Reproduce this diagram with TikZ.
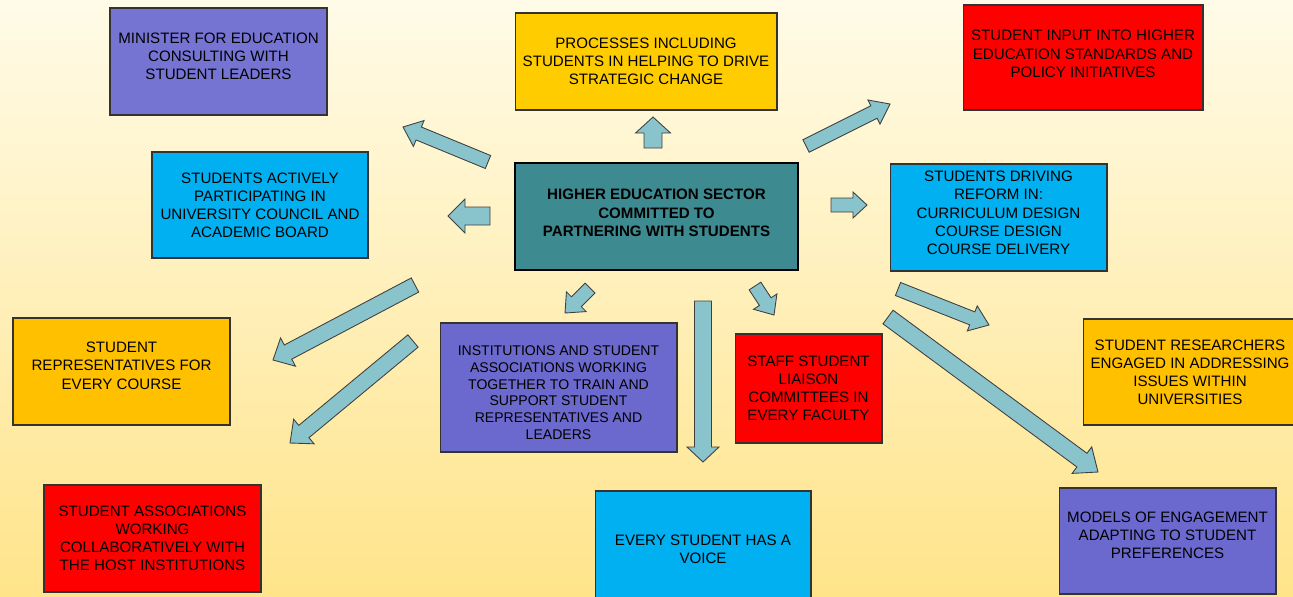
\documentclass[tikz,border=0pt]{standalone}
\usepackage{fontspec}
\setmainfont{Liberation Sans}
\usepackage{xcolor}
\usetikzlibrary{calc}

\definecolor{bgtop}{HTML}{FFFBE8}
\definecolor{bgbot}{HTML}{FFE48A}
\definecolor{minpurple}{HTML}{7574D2}
\definecolor{boxpurple}{HTML}{6B69CD}
\definecolor{boxyellow}{HTML}{FFCC00}
\definecolor{boxorange}{HTML}{FFC000}
\definecolor{boxred}{HTML}{FF0000}
\definecolor{boxcyan}{HTML}{00B0F0}
\definecolor{hubteal}{HTML}{3D8A90}
\definecolor{arrowfill}{HTML}{89C4CC}

\tikzset{
  box/.style={draw=black!80, line width=0.6pt, align=center, inner sep=2pt,
    font=\fontsize{8.6}{10.3}\selectfont},
  dims/.style 2 args={minimum width=#1, minimum height=#2},
  lift/.style={text depth=#1},
  sink/.style={text height=#1},
  hub/.style={box, draw=black, line width=1.2pt, fill=hubteal,
    font=\fontsize{8.6}{10.3}\selectfont\bfseries},
  blockarrow/.style={fill=arrowfill, draw=black!75, line width=0.5pt},
}

\begin{document}
\begin{tikzpicture}[x=0.02cm, y=-0.02cm]
\useasboundingbox (0,0) rectangle (1293,596);
\shade[top color=bgtop, bottom color=bgbot] (0,0) rectangle (1293,596);

% Central box
\node[hub, dims={5.66cm}{2.14cm}, lift=4.3pt] (hub) at (656.5,216.5)
  {HIGHER EDUCATION  SECTOR\\ COMMITTED TO\\ PARTNERING  WITH STUDENTS};

% Top row
\node[box, fill=minpurple, dims={4.34cm}{2.14cm}, lift=5.6pt] (minister) at (218.5,61.5)
  {MINISTER  FOR EDUCATION\\ CONSULTING  WITH\\ STUDENT  LEADERS};
\node[box, fill=boxyellow, dims={5.24cm}{1.94cm}] (processes) at (646,61.5)
  {PROCESSES INCLUDING\\ STUDENTS  IN HELPING TO DRIVE\\ STRATEGIC  CHANGE};
\node[box, fill=boxred, dims={4.8cm}{2.1cm}, lift=4.3pt] (input) at (1083,57.5)
  {STUDENT  INPUT INTO  HIGHER\\ EDUCATION  STANDARDS AND\\ POLICY INITIATIVES};

% Middle row
\node[box, fill=boxcyan, dims={4.32cm}{2.12cm}] (council) at (260,205)
  {STUDENTS  ACTIVELY\\ PARTICIPATING  IN\\ UNIVERSITY  COUNCIL  AND\\ ACADEMIC BOARD};
\node[box, fill=boxcyan, dims={4.34cm}{2.14cm}, lift=5.4pt] (reform) at (998.5,217.5)
  {STUDENTS  DRIVING\\ REFORM IN:\\ CURRICULUM  DESIGN\\ COURSE DESIGN\\ COURSE DELIVERY};

% Lower row
\node[box, fill=boxorange, dims={4.34cm}{2.14cm}, lift=6.6pt] (reps) at (121.5,371.5)
  {STUDENT\\ REPRESENTATIVES FOR\\ EVERY COURSE};
\node[box, fill=boxpurple, dims={4.74cm}{2.58cm}, sink=59.4pt, font=\fontsize{8}{9.6}\selectfont] (train) at (558.5,387.5)
  {INSTITUTIONS AND STUDENT\\ ASSOCIATIONS  WORKING\\ TOGETHER TO TRAIN AND\\ SUPPORT STUDENT\\ REPRESENTATIVES  AND\\ LEADERS};
\node[box, fill=boxred, dims={2.94cm}{2.18cm}] (liaison) at (808.5,388.5)
  {STAFF STUDENT\\ LIAISON\\ COMMITTEES  IN\\ EVERY FACULTY};
\node[box, fill=boxorange, dims={4.28cm}{2.12cm}] (research) at (1190,372)
  {STUDENT  RESEARCHERS\\ ENGAGED IN ADDRESSING\\ ISSUES WITHIN\\ UNIVERSITIES};

% Bottom row
\node[box, fill=boxred, dims={4.34cm}{2.14cm}] (assoc) at (152.5,538.5)
  {STUDENT ASSOCIATIONS\\ WORKING\\ COLLABORATIVELY WITH\\ THE HOST INSTITUTIONS};
\node[box, fill=boxcyan, dims={4.32cm}{2.14cm}, sink=22pt] (voice) at (703,544.5)
  {EVERY STUDENT HAS A\\ VOICE};
\node[box, fill=boxpurple, dims={4.34cm}{2.12cm}, lift=6.7pt] (models) at (1167.5,541)
  {MODELS OF ENGAGEMENT\\ ADAPTING TO STUDENT\\ PREFERENCES};

% Block arrows: tail / tip / shaft width / head width / head length
\foreach \tx/\ty/\hx/\hy/\s/\h/\l in {
    488/162/403/127/14/28/17,
    653/148/653/117/18/35/16,
    806/146/890/104/14/27/18,
    490/216/448/216/18/34/17,
    831/205/867/205/14/26/14,
    415/285/273/360/16/32/17,
    413/341/290/443/16/32/18,
    590/288/565/313/14/28/16,
    703/301/703/462/17/32/15,
    755/286/774/315/14/28/16,
    898/289/989/325/14/27/18,
    888/317/1098/472/17/33/20} {
  \coordinate (tail) at (\tx,\ty);
  \coordinate (tip) at (\hx,\hy);
  \coordinate (neck) at ($(tip)!\l*0.02cm!(tail)$);
  \filldraw[blockarrow] ($(tail)!\s*0.01cm!90:(tip)$)
    -- ($(neck)!\s*0.01cm!90:(tip)$) -- ($(neck)!\h*0.01cm!90:(tip)$)
    -- (tip)
    -- ($(neck)!\h*0.01cm!-90:(tip)$) -- ($(neck)!\s*0.01cm!-90:(tip)$)
    -- ($(tail)!\s*0.01cm!-90:(tip)$) -- cycle;
}
\end{tikzpicture}
\end{document}
